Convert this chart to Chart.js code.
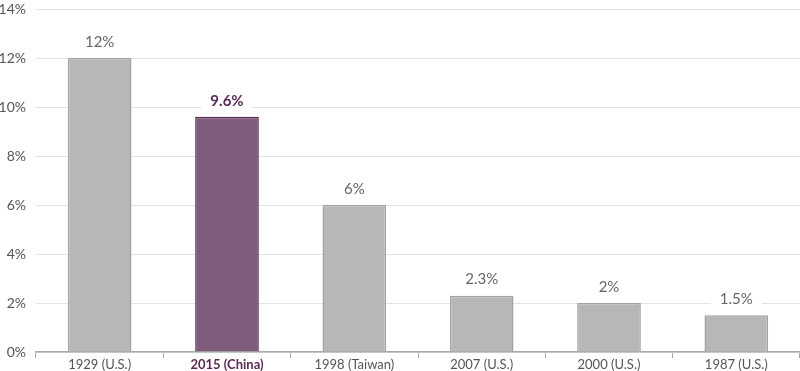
<!DOCTYPE html>
<html>
<head>
<meta charset="utf-8">
<script src="https://cdn.jsdelivr.net/npm/chart.js@4"></script>
<style>
    html, body { margin: 0; padding: 0; background: #fff; }
    #wrap { width: 800px; height: 371px; }
</style>
</head>
<body>
<div id="wrap"><canvas id="chart"></canvas></div>
<script>
// Donnees
const categories = ['1929 (U.S.)', '2015 (China)', '1998 (Taiwan)', '2007 (U.S.)', '2000 (U.S.)', '1987 (U.S.)'];
const valeurs = [12, 9.6, 6, 2.3, 2, 1.5];
const etiquettes = ['12%', '9.6%', '6%', '2.3%', '2%', '1.5%'];
const HIGHLIGHT = 1;

const GRIS = '#b7b7b7';
const GRIS_BORD = '#a3a3a3';
const VIOLET = '#7f5c7b';
const VIOLET_BORD = '#5b2a55';
const POLICE = 'Lato, "Open Sans", sans-serif';

// Etiquettes au-dessus des barres, avec fond blanc
const etiquettesPlugin = {
    id: 'etiquettes',
    afterDatasetsDraw(chart) {
        const ctx = chart.ctx;
        const meta = chart.getDatasetMeta(0);
        ctx.save();
        ctx.textAlign = 'center';
        ctx.textBaseline = 'middle';
        meta.data.forEach((bar, i) => {
            const bold = i === HIGHLIGHT;
            ctx.font = (bold ? 'bold ' : '') + '15px ' + POLICE;
            const txt = etiquettes[i];
            const w = ctx.measureText(txt).width + 18;
            const y = bar.y - 16;
            ctx.fillStyle = '#fff';
            ctx.fillRect(bar.x - w / 2, y - 9, w, 18);
            ctx.fillStyle = bold ? VIOLET_BORD : '#666';
            ctx.fillText(txt, bar.x, y);
        });
        ctx.restore();
    }
};

new Chart(document.getElementById('chart'), {
    type: 'bar',
    data: {
        labels: categories,
        datasets: [{
            data: valeurs,
            backgroundColor: valeurs.map((v, i) => i === HIGHLIGHT ? VIOLET : GRIS),
            borderColor: valeurs.map((v, i) => i === HIGHLIGHT ? VIOLET_BORD : GRIS_BORD),
            borderWidth: 1.5,
            categoryPercentage: 1,
            barPercentage: 0.5
        }]
    },
    options: {
        responsive: true,
        maintainAspectRatio: false,
        animation: false,
        layout: { padding: { top: 9, right: 0, left: 0, bottom: 0 } },
        plugins: {
            legend: { display: false },
            tooltip: { enabled: false }
        },
        scales: {
            x: {
                offset: true,
                grid: {
                    offset: true,
                    drawOnChartArea: false,
                    drawTicks: true,
                    tickLength: 6,
                    color: '#aaa'
                },
                border: { color: '#aaa', width: 1.5 },
                ticks: {
                    color: ctx => ctx.index === HIGHLIGHT ? VIOLET_BORD : '#555',
                    font: ctx => ({ family: POLICE, size: 13, lineHeight: 1, weight: ctx.index === HIGHLIGHT ? 'bold' : 'normal' }),
                    padding: 0
                }
            },
            y: {
                min: 0,
                max: 14,
                afterFit: scale => { scale.width = 36; scale.paddingTop = 0; },
                ticks: {
                    stepSize: 2,
                    color: '#555',
                    font: { family: POLICE, size: 14 },
                    padding: 10,
                    callback: v => v + '%'
                },
                grid: { color: '#e3e3e3', drawTicks: false, lineWidth: 1 },
                border: { display: false }
            }
        }
    },
    plugins: [etiquettesPlugin]
});
</script>
</body>
</html>
